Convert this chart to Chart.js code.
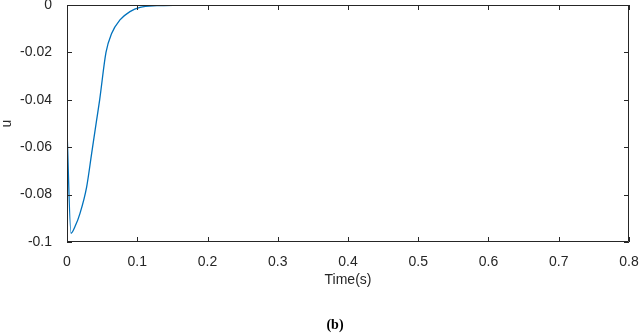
<!DOCTYPE html>
<html>
<head>
<meta charset="utf-8">
<script src="https://cdn.jsdelivr.net/npm/chart.js@4.4.0/dist/chart.umd.min.js"></script>
<style>
  html, body { margin: 0; padding: 0; background: #fff; }
  #wrap { position: relative; width: 640px; height: 336px; }
  #caption {
    position: absolute; left: 335px; top: 317px; transform: translateX(-50%);
    font: bold 14px "Liberation Serif", "Times New Roman", serif; color: #000;
  }
</style>
</head>
<body>
<div id="wrap">
  <canvas id="graficoU" width="640" height="336"></canvas>
  <div id="caption">(b)</div>
</div>
<script>
// values
const time = [0, 0.0057, 0.0114, 0.0185, 0.028, 0.0351, 0.0422, 0.0465, 0.0555, 0.0635, 0.0754, 0.0896, 0.104, 0.128, 0.16, 0.2, 0.8]
const u = [-0.0527, -0.0963, -0.0935, -0.0879, -0.0767, -0.0626, -0.0485, -0.04, -0.02, -0.012, -0.0063, -0.0028, -0.001, -0.0003, -0.0001, 0, 0]

const xTicks = [0, 0.1, 0.2, 0.3, 0.4, 0.5, 0.6, 0.7, 0.8]
const xLabels = ['0', '0.1', '0.2', '0.3', '0.4', '0.5', '0.6', '0.7', '0.8']
const yTicks = [-0.1, -0.08, -0.06, -0.04, -0.02, 0]
const yLabels = ['-0.1', '-0.08', '-0.06', '-0.04', '-0.02', '0']

const axisColor = '#262626'

// matlab style box with inward ticks
const boxTicks = {
  id: 'boxTicks',
  afterDraw(chart) {
    const { ctx, chartArea: a, scales } = chart
    const len = 5
    ctx.save()
    ctx.strokeStyle = axisColor
    ctx.lineWidth = 1
    ctx.beginPath()
    ctx.rect(a.left + 0.5, a.top + 0.5, a.right - a.left - 1, a.bottom - a.top - 1)
    scales.x.ticks.forEach(t => {
      const px = Math.round(scales.x.getPixelForValue(t.value)) + 0.5
      ctx.moveTo(px, a.bottom); ctx.lineTo(px, a.bottom - len)
      ctx.moveTo(px, a.top); ctx.lineTo(px, a.top + len)
    })
    scales.y.ticks.forEach(t => {
      const py = Math.round(scales.y.getPixelForValue(t.value)) + 0.5
      ctx.moveTo(a.left, py); ctx.lineTo(a.left + len, py)
      ctx.moveTo(a.right, py); ctx.lineTo(a.right - len, py)
    })
    ctx.stroke()
    ctx.restore()
  }
}

const font = { family: '"Liberation Sans", Arial, sans-serif', size: 14 }

new Chart(document.querySelector('#graficoU'), {
  type: 'line',
  data: {
    datasets: [{
      label: 'u',
      data: time.map((t, i) => ({ x: t, y: u[i] })),
      borderColor: '#0072BD',
      borderWidth: 1.3,
      pointRadius: 0,
      cubicInterpolationMode: 'monotone',
      fill: false
    }]
  },
  options: {
    responsive: false,
    animation: false,
    layout: { padding: { top: 5, right: 11, left: 0, bottom: 20 } },
    plugins: {
      legend: { display: false },
      tooltip: { enabled: false }
    },
    scales: {
      x: {
        type: 'linear',
        min: 0,
        max: 0.8,
        grid: { display: false },
        border: { display: false },
        afterBuildTicks: s => { s.ticks = xTicks.map(v => ({ value: v })) },
        afterFit: s => { s.height = 74; s.paddingLeft = 0; s.paddingRight = 0 },
        ticks: {
          color: axisColor,
          font: font,
          padding: 4,
          maxRotation: 0,
          callback: (v, i) => xLabels[i]
        },
        title: {
          display: true,
          text: 'Time(s)',
          color: axisColor,
          font: font,
          padding: { top: 0, bottom: 27 }
        }
      },
      y: {
        min: -0.1,
        max: 0,
        grid: { display: false },
        border: { display: false },
        afterBuildTicks: s => { s.ticks = yTicks.map(v => ({ value: v })) },
        afterFit: s => { s.width = 67; s.paddingTop = 0; s.paddingBottom = 0 },
        ticks: {
          color: axisColor,
          font: font,
          padding: 7,
          callback: (v, i) => yLabels[i]
        },
        title: {
          display: true,
          text: 'u',
          color: axisColor,
          font: { ...font, lineHeight: 1 },
          padding: 0
        }
      }
    }
  },
  plugins: [boxTicks]
})
</script>
</body>
</html>
